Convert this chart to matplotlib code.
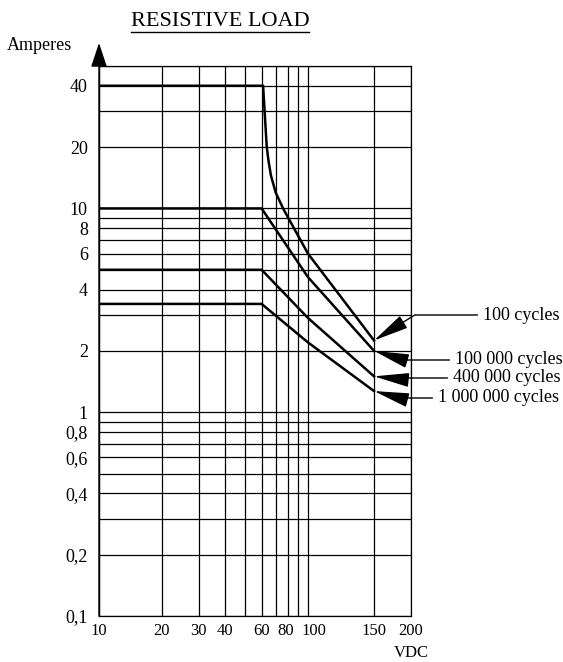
import numpy as np
import matplotlib
matplotlib.use('Agg')
import matplotlib.pyplot as plt
import matplotlib.transforms as mtransforms
from matplotlib.ticker import FixedLocator, FixedFormatter, NullLocator
from matplotlib.lines import Line2D

plt.rcParams['font.family'] = ['Liberation Serif', 'DejaVu Serif']

# curves (volts, amperes)
volts_100c = [10, 61, 62, 63.5, 64.8, 66.5, 70, 76, 100, 150]
amps_100c = [40, 40, 30, 20, 17, 14.5, 12, 10, 6.0, 2.25]
volts_100k = [10, 60, 100, 150]
amps_100k = [10, 10, 4.6, 2.0]
volts_400k = [10, 60, 100, 150]
amps_400k = [5, 5, 2.9, 1.5]
volts_1m = [10, 60, 100, 150]
amps_1m = [3.4, 3.4, 2.2, 1.27]

curve_labels = ['100 cycles', '100 000 cycles', '400 000 cycles', '1 000 000 cycles']

x_grid = [10, 20, 30, 40, 50, 60, 70, 80, 90, 100, 150, 200]
x_ticklabels = ['10', '20', '30', '40', '', '60', '', '80', '', '100', '150', '200']
y_grid = [0.1, 0.2, 0.3, 0.4, 0.5, 0.6, 0.7, 0.8, 0.9,
          1, 2, 3, 4, 5, 6, 7, 8, 9, 10, 20, 30, 40, 50]
y_ticklabels = ['0,1', '0,2', '', '0,4', '', '0,6', '', '0,8', '',
                '1', '2', '', '4', '', '6', '', '8', '', '10', '20', '', '40', '']

# the voltage axis of the original is log up to 100 V and stretched above it
_lk = np.array([-10, 2, np.log10(150), np.log10(200), 10])
_pk = np.array([-10, 2, 2.316, 2.493, 2.493 + (10 - np.log10(200)) * 1.416])


def fwd(x):
    return np.interp(np.log10(np.clip(x, 1e-6, None)), _lk, _pk)


def inv(p):
    return 10 ** np.interp(p, _pk, _lk)


fig = plt.figure(figsize=(5.63, 6.62), dpi=100)
ax = fig.add_axes([99 / 563, 46 / 662, 312 / 563, 550 / 662])
ax.set_xscale('function', functions=(fwd, inv))
ax.set_yscale('log')
ax.set_xlim(10, 200)
ax.set_ylim(0.1, 50)

ax.xaxis.set_major_locator(FixedLocator(x_grid))
ax.xaxis.set_major_formatter(FixedFormatter(x_ticklabels))
ax.xaxis.set_minor_locator(NullLocator())
ax.yaxis.set_major_locator(FixedLocator(y_grid))
ax.yaxis.set_major_formatter(FixedFormatter(y_ticklabels))
ax.yaxis.set_minor_locator(NullLocator())
ax.tick_params(length=0, labelsize=13)
ax.tick_params(axis='y', pad=8)
ax.tick_params(axis='x', pad=5, labelsize=12)
ax.grid(True, color='black', lw=0.9)
for s in ax.spines.values():
    s.set_linewidth(0.9)

for v, a in [(volts_100c, amps_100c), (volts_100k, amps_100k),
             (volts_400k, amps_400k), (volts_1m, amps_1m)]:
    ax.plot(v, a, color='black', lw=1.8, solid_joinstyle='round')

# leaders to the curve ends
ends = [amps_100c[-1], amps_100k[-1], amps_400k[-1], amps_1m[-1]]
text_pos = [(483, 347), (455, 302), (453, 284), (438, 264)]
angles = [32, -17, -6, -15]
for lab, a, (tx, ty), ang in zip(curve_labels, ends, text_pos, angles):
    ax.annotate(lab, xy=(150, a), xycoords='data', xytext=(tx, ty),
                textcoords='figure pixels', ha='left', va='center', fontsize=13,
                annotation_clip=False,
                arrowprops=dict(arrowstyle='-|>,head_length=1.1,head_width=0.22',
                                connectionstyle=f'angle,angleA=0,angleB={ang},rad=0',
                                color='black', lw=1, shrinkA=2, shrinkB=0,
                                mutation_scale=20, relpos=(0, 0.5)))

# arrow on the amperes axis
ax.annotate('', xy=(0, 573 / 550), xycoords='axes fraction', xytext=(0, 0),
            textcoords='axes fraction', annotation_clip=False,
            arrowprops=dict(arrowstyle='-|>,head_length=1.5,head_width=0.5',
                            color='black', lw=1, shrinkA=0, shrinkB=0,
                            mutation_scale=10))

title = fig.text(220 / 563, 1 - 21 / 662, 'RESISTIVE LOAD', ha='center', va='center',
                 fontsize=16)
fig.text(7 / 563, 1 - 45 / 662, 'Amperes', ha='left', va='center', fontsize=13)
fig.text(411 / 563, 1 - 653 / 662, 'VDC', ha='center', va='center', fontsize=12)

# nudge the crowded voltage labels apart, as in the original
shifts = {'80': -2, '100': 6}
for lbl in ax.get_xticklabels():
    dx = shifts.get(lbl.get_text(), 0)
    if dx:
        lbl.set_transform(lbl.get_transform() +
                          mtransforms.ScaledTranslation(dx / 100, 0, fig.dpi_scale_trans))

fig.canvas.draw()
bb = title.get_window_extent().transformed(fig.transFigure.inverted())
fig.add_artist(Line2D([bb.x0, bb.x1], [bb.y0 - 0.002, bb.y0 - 0.002],
                      transform=fig.transFigure, color='black', lw=1))

fig.savefig('out.png', dpi=100)
